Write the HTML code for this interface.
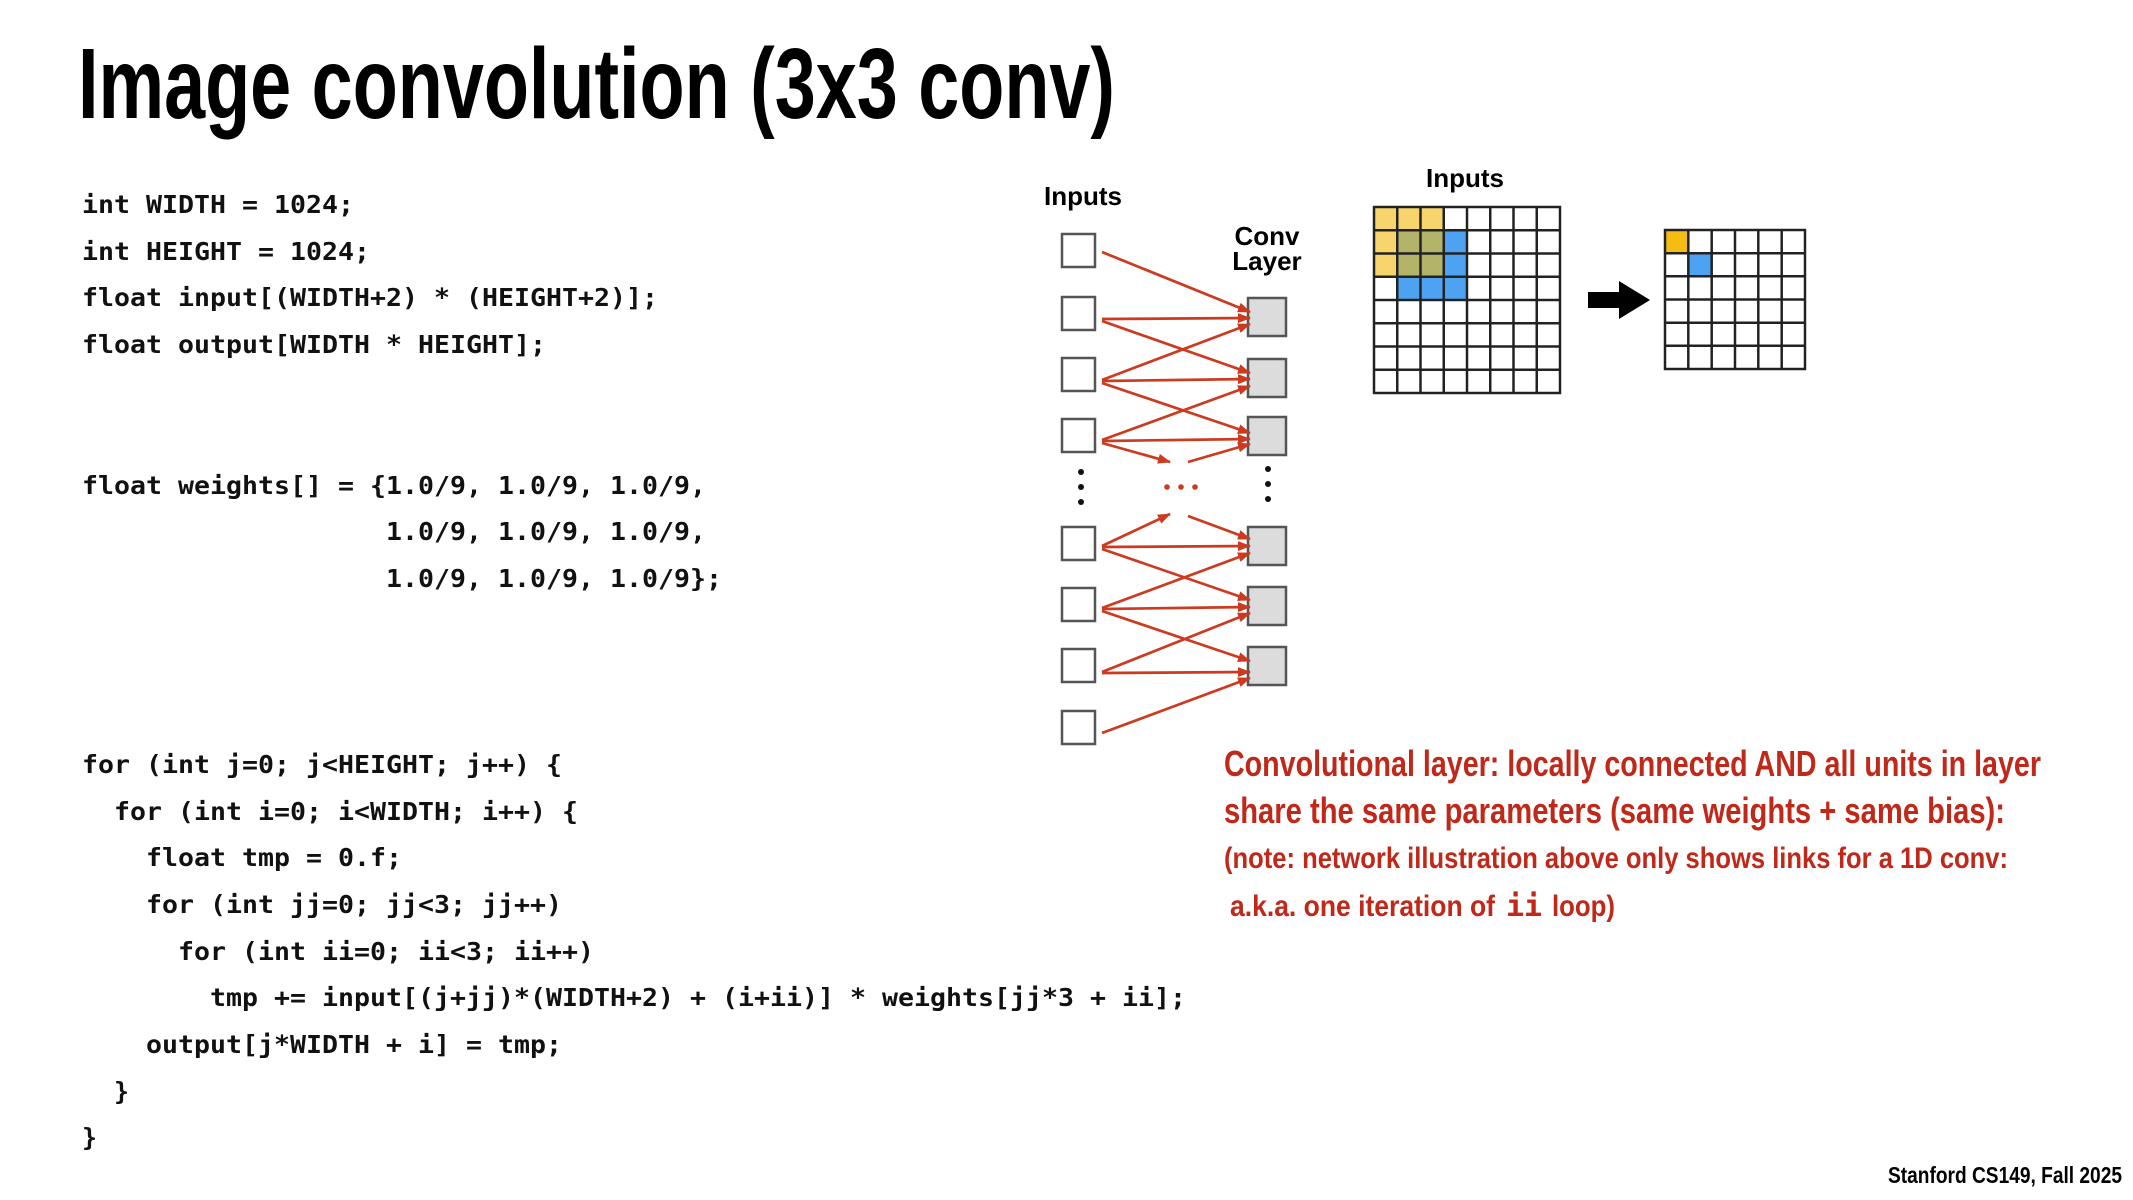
<!DOCTYPE html>
<html><head><meta charset="utf-8"><style>
html,body{margin:0;padding:0;background:#fff;width:2133px;height:1200px;overflow:hidden}
svg{display:block}
.t{font-family:"Liberation Sans Narrow","Liberation Sans",sans-serif;font-weight:bold}
.c{font-family:"DejaVu Sans Mono","Liberation Mono",monospace;font-weight:bold;font-size:25px;fill:#111}
.r{fill:#c0281a}
</style></head><body>
<svg width="2133" height="1200" viewBox="0 0 2133 1200" xmlns="http://www.w3.org/2000/svg">
<defs>
<marker id="ah" markerWidth="13" markerHeight="10" refX="12" refY="5" orient="auto" markerUnits="userSpaceOnUse">
<path d="M0,0 L13,5 L0,10 z" fill="#cc3a1f"/></marker>
</defs>
<text class="t" x="78" y="118" font-size="100" textLength="1037" lengthAdjust="spacingAndGlyphs">Image convolution (3x3 conv)</text>

<!-- code -->
<g class="c">
<text x="82" y="213" textLength="272" lengthAdjust="spacingAndGlyphs">int WIDTH = 1024;</text>
<text x="82" y="260" textLength="288" lengthAdjust="spacingAndGlyphs">int HEIGHT = 1024;</text>
<text x="82" y="306" textLength="576" lengthAdjust="spacingAndGlyphs">float input[(WIDTH+2) * (HEIGHT+2)];</text>
<text x="82" y="353" textLength="464" lengthAdjust="spacingAndGlyphs">float output[WIDTH * HEIGHT];</text>
<text x="82" y="494" textLength="624" lengthAdjust="spacingAndGlyphs">float weights[] = {1.0/9, 1.0/9, 1.0/9,</text>
<text x="386" y="540" textLength="320" lengthAdjust="spacingAndGlyphs">1.0/9, 1.0/9, 1.0/9,</text>
<text x="386" y="587" textLength="336" lengthAdjust="spacingAndGlyphs">1.0/9, 1.0/9, 1.0/9};</text>
<text x="82" y="773" textLength="480" lengthAdjust="spacingAndGlyphs">for (int j=0; j&lt;HEIGHT; j++) {</text>
<text x="114" y="820" textLength="464" lengthAdjust="spacingAndGlyphs">for (int i=0; i&lt;WIDTH; i++) {</text>
<text x="146" y="866" textLength="256" lengthAdjust="spacingAndGlyphs">float tmp = 0.f;</text>
<text x="146" y="913" textLength="416" lengthAdjust="spacingAndGlyphs">for (int jj=0; jj&lt;3; jj++)</text>
<text x="178" y="960" textLength="416" lengthAdjust="spacingAndGlyphs">for (int ii=0; ii&lt;3; ii++)</text>
<text x="210" y="1006" textLength="976" lengthAdjust="spacingAndGlyphs">tmp += input[(j+jj)*(WIDTH+2) + (i+ii)] * weights[jj*3 + ii];</text>
<text x="146" y="1053" textLength="416" lengthAdjust="spacingAndGlyphs">output[j*WIDTH + i] = tmp;</text>
<text x="114" y="1100">}</text>
<text x="82" y="1146">}</text>
</g>

<!-- network diagram -->
<text class="t" x="1083" y="205" font-size="26" text-anchor="middle">Inputs</text>
<text class="t" x="1267" y="245" font-size="26" text-anchor="middle">Conv</text>
<text class="t" x="1267" y="270" font-size="26" text-anchor="middle">Layer</text>
<g fill="#fff" stroke="#555" stroke-width="2.5">
<rect x="1062" y="234" width="33" height="33"/>
<rect x="1062" y="297" width="33" height="33"/>
<rect x="1062" y="358" width="33" height="33"/>
<rect x="1062" y="419" width="33" height="33"/>
<rect x="1062" y="527" width="33" height="33"/>
<rect x="1062" y="588" width="33" height="33"/>
<rect x="1062" y="649" width="33" height="33"/>
<rect x="1062" y="711" width="33" height="33"/>
</g>
<g fill="#dcdcdc" stroke="#555" stroke-width="2.5">
<rect x="1248" y="298" width="38" height="38"/>
<rect x="1248" y="359" width="38" height="38"/>
<rect x="1248" y="417" width="38" height="38"/>
<rect x="1248" y="527" width="38" height="38"/>
<rect x="1248" y="587" width="38" height="38"/>
<rect x="1248" y="647" width="38" height="38"/>
</g>
<g fill="#111">
<circle cx="1081" cy="472" r="3"/><circle cx="1081" cy="487" r="3"/><circle cx="1081" cy="502" r="3"/>
<circle cx="1268" cy="469" r="3"/><circle cx="1268" cy="484" r="3"/><circle cx="1268" cy="499" r="3"/>
</g>
<g fill="#cc3a1f">
<circle cx="1167" cy="487" r="2.8"/><circle cx="1181" cy="487" r="2.8"/><circle cx="1195" cy="487" r="2.8"/>
</g>
<g stroke="#cc3a1f" stroke-width="2.7" fill="none" marker-end="url(#ah)">
<line x1="1102" y1="252" x2="1250" y2="312"/>
<line x1="1102" y1="319" x2="1250" y2="318"/>
<line x1="1102" y1="321" x2="1250" y2="373"/>
<line x1="1102" y1="380" x2="1250" y2="324"/>
<line x1="1102" y1="381" x2="1250" y2="379"/>
<line x1="1102" y1="383" x2="1250" y2="433"/>
<line x1="1102" y1="440" x2="1250" y2="386"/>
<line x1="1102" y1="441" x2="1250" y2="439"/>
<line x1="1102" y1="443" x2="1170" y2="462"/>
<line x1="1188" y1="462" x2="1250" y2="444"/>
<line x1="1102" y1="546" x2="1170" y2="514"/>
<line x1="1188" y1="516" x2="1250" y2="539"/>
<line x1="1102" y1="547" x2="1250" y2="546"/>
<line x1="1102" y1="549" x2="1250" y2="600"/>
<line x1="1102" y1="608" x2="1250" y2="553"/>
<line x1="1102" y1="609" x2="1250" y2="607"/>
<line x1="1102" y1="611" x2="1250" y2="661"/>
<line x1="1102" y1="672" x2="1250" y2="613"/>
<line x1="1102" y1="673" x2="1250" y2="672"/>
<line x1="1102" y1="733" x2="1250" y2="678"/>
</g>

<!-- grids -->
<text class="t" x="1465" y="187" font-size="26" text-anchor="middle">Inputs</text>
<g>
<rect x="1374" y="207" width="70" height="23.3" fill="#f8d46c"/>
<rect x="1374" y="230" width="23.3" height="47" fill="#f8d46c"/>
<rect x="1397" y="230" width="47" height="47" fill="#b3b36a"/>
<rect x="1444" y="230" width="23.3" height="70" fill="#4da3f2"/>
<rect x="1397" y="277" width="47" height="23.3" fill="#4da3f2"/>
</g>
<g stroke="#222" stroke-width="2.5" fill="none">
<rect x="1374" y="207" width="186" height="186"/>
<path d="M1397.25 207V393M1420.5 207V393M1443.75 207V393M1467 207V393M1490.25 207V393M1513.5 207V393M1536.75 207V393
M1374 230.25H1560M1374 253.5H1560M1374 276.75H1560M1374 300H1560M1374 323.25H1560M1374 346.5H1560M1374 369.75H1560"/>
</g>
<rect x="1665" y="230" width="23.3" height="23.2" fill="#f5bd14"/>
<rect x="1688.3" y="253.2" width="23.3" height="23.2" fill="#4da3f2"/>
<g stroke="#222" stroke-width="2.5" fill="none">
<rect x="1665" y="230" width="140" height="139"/>
<path d="M1688.3 230V369M1711.7 230V369M1735 230V369M1758.3 230V369M1781.7 230V369
M1665 253.2H1805M1665 276.3H1805M1665 299.5H1805M1665 322.7H1805M1665 345.8H1805"/>
</g>
<path d="M1588 292H1619V281L1650 300L1619 319V308H1588Z" fill="#000"/>

<!-- red text -->
<g class="t r">
<text x="1224" y="776" font-size="36" textLength="817" lengthAdjust="spacingAndGlyphs">Convolutional layer: locally connected AND all units in layer</text>
<text x="1224" y="823" font-size="36" textLength="781" lengthAdjust="spacingAndGlyphs">share the same parameters (same weights + same bias):</text>
<text x="1224" y="868" font-size="30" textLength="784" lengthAdjust="spacingAndGlyphs">(note: network illustration above only shows links for a 1D conv:</text>
<text x="1230" y="916" font-size="30" textLength="265" lengthAdjust="spacingAndGlyphs">a.k.a. one iteration of</text>
<text x="1506" y="916" font-size="30" font-family="DejaVu Sans Mono,monospace">ii</text>
<text x="1552" y="916" font-size="30" textLength="63" lengthAdjust="spacingAndGlyphs">loop)</text>
</g>
<text class="t" x="2122" y="1183" font-size="23" text-anchor="end" textLength="234" lengthAdjust="spacingAndGlyphs">Stanford CS149, Fall 2025</text>
</svg>
</body></html>
